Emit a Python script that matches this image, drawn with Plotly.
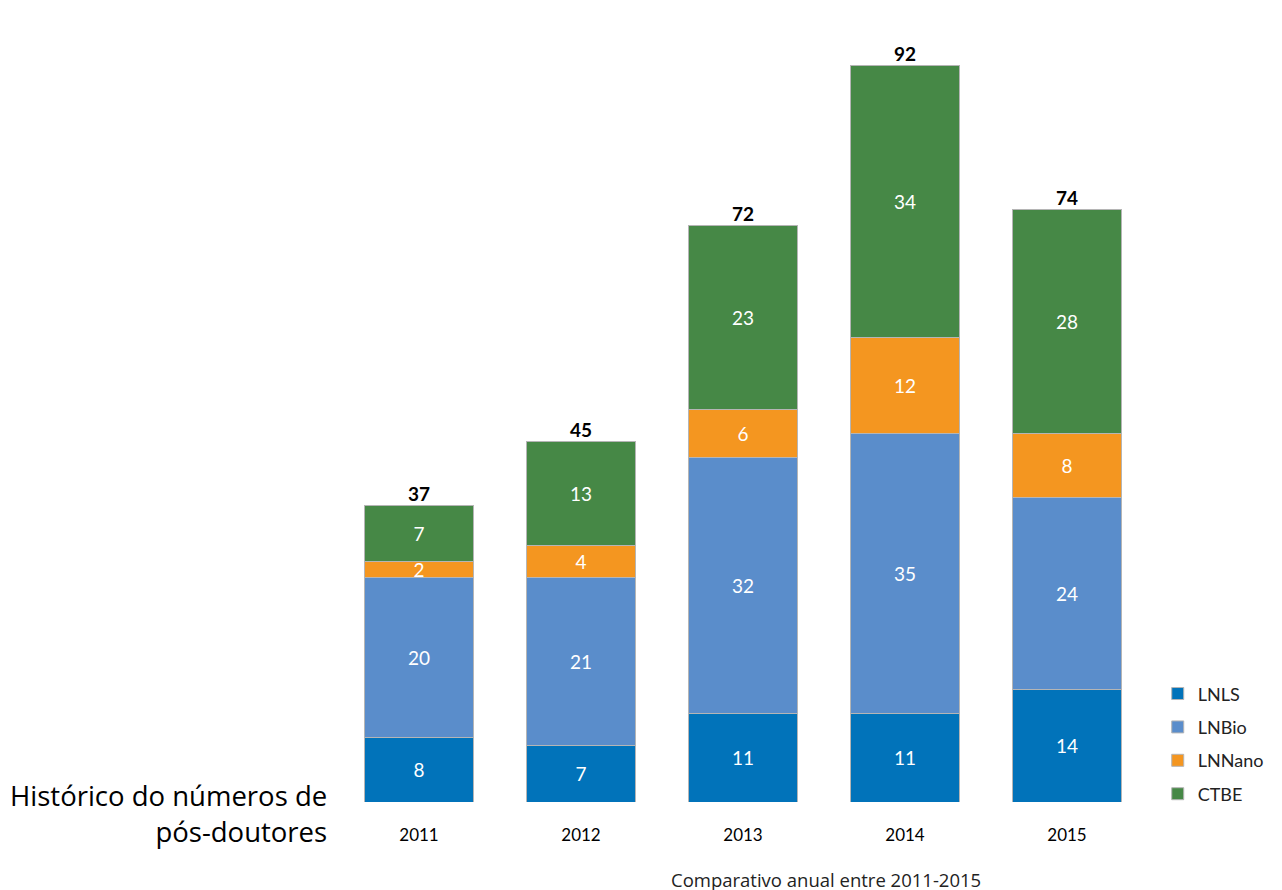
import plotly.graph_objects as go

years = ["2011", "2012", "2013", "2014", "2015"]
lnls = [8, 7, 11, 11, 14]
lnbio = [20, 21, 32, 35, 24]
lnnano = [2, 4, 6, 12, 8]
ctbe = [7, 13, 23, 34, 28]
series_names = ["LNLS", "LNBio", "LNNano", "CTBE"]
colors = ["#0173BA", "#5A8DCB", "#F49620", "#468846"]

totals = [a + b + c + d for a, b, c, d in zip(lnls, lnbio, lnnano, ctbe)]

FONT = "Lato, 'Noto Sans', sans-serif"
TITLE_FONT = "'Open Sans', 'Noto Sans', sans-serif"

fig = go.Figure()
for name, vals, col in zip(series_names, [lnls, lnbio, lnnano, ctbe], colors):
    fig.add_trace(go.Bar(
        x=years, y=vals, name=name, legendgroup=name,
        marker=dict(color=col, line=dict(color="#b5b5b5", width=1)),
        text=[str(v) for v in vals], textposition="inside", textangle=0,
        insidetextanchor="middle", constraintext="none",
        insidetextfont=dict(color="white", size=19, family=FONT),
        hoverinfo="skip",
    ))

fig.add_trace(go.Scatter(
    x=years, y=totals, mode="text", text=[f"<b>{t}</b>" for t in totals],
    textposition="top center", showlegend=False, hoverinfo="skip",
    textfont=dict(size=19, color="black", family=FONT), cliponaxis=False,
))

fig.add_annotation(xref="paper", yref="paper", x=-0.0105, y=0.034,
                   text="Histórico do números de<br>pós-doutores",
                   showarrow=False, xanchor="right", yanchor="top", align="right",
                   font=dict(size=27.5, color="black", family=TITLE_FONT))

fig.add_annotation(xref="paper", yref="paper", x=0.6025, y=-0.0997,
                   text="Comparativo anual entre 2011-2015", showarrow=False,
                   xanchor="center", yanchor="middle",
                   font=dict(size=18.5, color="#222", family=TITLE_FONT))

fig.update_layout(
    width=1282, height=890,
    barmode="stack", bargap=0.333,
    paper_bgcolor="white", plot_bgcolor="white",
    margin=dict(l=330, r=142, t=12, b=96),
    showlegend=True,
    legend=dict(x=1.012, y=0.162, xanchor="left", yanchor="top",
                traceorder="grouped", tracegroupgap=7,
                font=dict(size=18, color="#222", family=FONT)),
    xaxis=dict(type="category", showgrid=False, showline=False, zeroline=False,
               ticks="outside", ticklen=18, tickcolor="rgba(0,0,0,0)",
               tickfont=dict(size=17, color="black", family=FONT)),
    yaxis=dict(range=[0, 97.7], visible=False),
)

fig.write_html("out.html")
